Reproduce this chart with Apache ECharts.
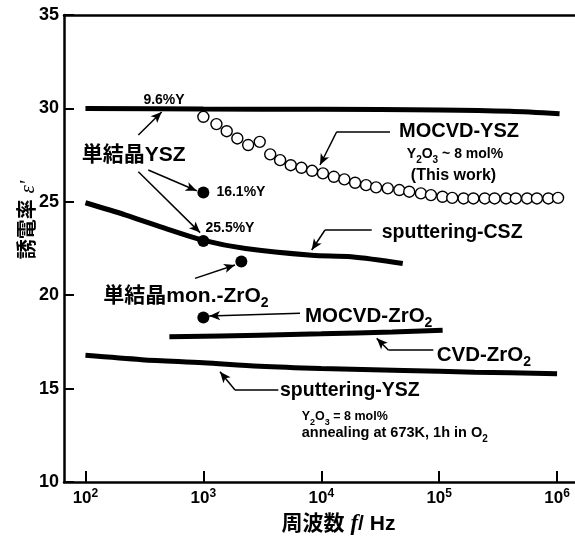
<!DOCTYPE html>
<html><head><meta charset="utf-8">
<script src="https://cdn.jsdelivr.net/npm/echarts@6/dist/echarts.min.js"></script>
<style>html,body{margin:0;padding:0;background:#fff}#c{width:575px;height:540px}</style>
</head><body><div id="c"></div>
<script>
// ---------- DATA ----------
const xTickValues = [100, 1000, 10000, 100000, 1000000];
const yTickValues = [10, 15, 20, 25, 30, 35];

// single crystal YSZ 9.6%Y (line)
const ysz96Freq = [100, 1000, 10000, 100000, 400000, 1050000];
const ysz96Val  = [30.0, 29.97, 29.95, 29.92, 29.85, 29.72];

// MOCVD-YSZ (this work), open circles
const mocvdYszFreq = [1000, 1291, 1578, 1941, 2399, 3006, 3690, 4477, 5508, 6792, 8356,
  10330, 12790, 15700, 19360, 23990, 29170, 36640, 45920, 55720, 69980, 85110,
  106700, 129100, 161100, 195000, 243800, 295100, 369000, 446700, 557200, 674500, 843300, 1019000];
const mocvdYszVal = [29.55, 29.16, 28.78, 28.39, 28.04, 28.21, 27.54, 27.23, 26.96, 26.82, 26.66,
  26.52, 26.34, 26.20, 26.02, 25.89, 25.77, 25.72, 25.63, 25.54, 25.45, 25.36,
  25.27, 25.21, 25.18, 25.18, 25.18, 25.18, 25.18, 25.18, 25.18, 25.18, 25.18, 25.21];

// sputtering-CSZ
const cszFreq = [100, 220, 434, 986, 2280, 8280, 17950, 49100];
const cszVal  = [24.95, 24.29, 23.66, 22.95, 22.5, 22.14, 22.06, 21.70];

// CVD-ZrO2
const cvdZrFreq = [515, 3000, 10000, 40000, 107000];
const cvdZrVal  = [17.77, 17.86, 17.93, 18.03, 18.13];

// sputtering-YSZ
const spYszFreq = [100, 300, 1000, 3000, 10000, 50000, 200000, 1000000];
const spYszVal  = [16.78, 16.55, 16.38, 16.20, 16.08, 15.97, 15.88, 15.80];

// single crystal YSZ points (16.1%Y, 25.5%Y)
const scYszFreq = [1000, 1000];
const scYszVal  = [25.5, 22.9];
// single crystal mon.-ZrO2
const monZrFreq = [2100];
const monZrVal  = [21.8];
// MOCVD-ZrO2
const mocvdZrFreq = [1000];
const mocvdZrVal  = [18.8];

// ---------- ANNOTATIONS (data-space anchors) ----------
const FONT = "'Liberation Sans','Noto Sans CJK JP',sans-serif";
const annTexts = [
  {t: '9.6%Y', f: 310, v: 30.45, fs: 14},
  {t: '単結晶YSZ', f: 92.9, v: 27.51, fs: 21},
  {t: '16.1%Y', f: 1290, v: 25.52, fs: 14},
  {t: '25.5%Y', f: 1041, v: 23.60, fs: 14},
  {t: 'MOCVD-YSZ', f: 147300, v: 28.74, fs: 20, align: 'center'},
  {t: 'Y{s|2}O{s|3} ~ 8 mol%', f: 136200, v: 27.56, fs: 14, align: 'center'},
  {t: '(This work)', f: 132300, v: 26.38, fs: 16, align: 'center'},
  {t: 'sputtering-CSZ', f: 32560, v: 23.36, fs: 19.5},
  {t: '単結晶mon.-ZrO{s|2}', f: 141.7, v: 19.96, fs: 21},
  {t: 'MOCVD-ZrO{s|2}', f: 7280, v: 18.89, fs: 20.5},
  {t: 'CVD-ZrO{s|2}', f: 95330, v: 16.80, fs: 20.5},
  {t: 'sputtering-YSZ', f: 4468, v: 14.87, fs: 19.5},
  {t: 'Y{s|2}O{s|3} = 8 mol%', f: 6826, v: 13.53, fs: 12.5},
  {t: 'annealing at 673K, 1h in O{s|2}', f: 6826, v: 12.62, fs: 14.5}
];
const annArrows = [
  [[281, 28.58], [443, 29.81]],
  [[341, 26.70], [878, 25.59]],
  [[281, 26.61], [938, 23.35]],
  [[38280, 28.75], [13520, 28.75], [9757, 26.97]],
  [[26780, 23.49], [10760, 23.49], [8296, 22.42]],
  [[849, 20.90], [1855, 21.62]],
  [[6603, 19.03], [1119, 18.89]],
  [[89190, 17.07], [37030, 17.07], [29530, 17.69]],
  [[4321, 14.93], [1855, 14.93], [1384, 15.90]]
];

// ---------- BUILD ----------
const zip = (a, b) => a.map((x, i) => [x, b[i]]);
const lineSeries = (name, fx, vy) => ({
  name, type: 'line', data: zip(fx, vy), smooth: 0.3, symbol: 'none',
  lineStyle: {color: '#000', width: 5, cap: 'butt', opacity: 1}, z: 3, silent: true
});
const dotSeries = (name, fx, vy) => ({
  name, type: 'scatter', data: zip(fx, vy), symbol: 'circle', symbolSize: 12, z: 5, silent: true,
  itemStyle: {color: '#000', opacity: 1}
});

const mpData = annTexts.map(a => {
  const sub = Math.round(a.fs * 0.68);
  return {
    coord: [a.f, a.v], symbolSize: 0,
    label: {
      show: true, position: [0, 0], formatter: a.t,
      align: a.align || 'left', verticalAlign: 'middle',
      fontSize: a.fs, fontWeight: 'bold', fontFamily: FONT, color: '#000',
      lineHeight: Math.round(a.fs + 8),
      rich: {s: {fontSize: sub, fontWeight: 'bold', fontFamily: FONT, color: '#000',
                 verticalAlign: 'bottom', lineHeight: sub + 2}}
    }
  };
});
const mlData = [];
annArrows.forEach(pts => {
  for (let i = 0; i < pts.length - 1; i++) {
    const last = i === pts.length - 2;
    mlData.push([
      {coord: pts[i], symbol: 'none'},
      {coord: pts[i + 1], symbol: last ? 'arrow' : 'none', symbolSize: [7, 11]}
    ]);
  }
});

const chart = echarts.init(document.getElementById('c'), null, {renderer: 'canvas'});
chart.setOption({
  animation: false,
  backgroundColor: '#fff',
  grid: {left: 64, right: 0, top: 15, bottom: 58, containLabel: false, outerBoundsMode: 'none'},
  xAxis: [{
    type: 'log', logBase: 10, min: 65.77, max: 1.419e6,
    name: '周波数 {i|f}/ Hz', nameLocation: 'middle', nameGap: 26,
    nameTextStyle: {fontSize: 21, fontWeight: 'bold', fontFamily: FONT, color: '#000', padding: [0, 0, 0, 38],
      rich: {i: {fontSize: 23, fontStyle: 'italic', fontWeight: 'bold', fontFamily: "'Liberation Serif',serif", color: '#000'}}},
    axisLine: {show: true, lineStyle: {color: '#000', width: 2.5}},
    axisTick: {show: true, inside: true, length: 11, lineStyle: {color: '#000', width: 2}},
    splitLine: {show: false}, minorTick: {show: false},
    axisLabel: {
      show: true, margin: 6, showMinLabel: false, showMaxLabel: false,
      formatter: v => '10{sup|' + Math.round(Math.log10(v)) + '}',
      fontSize: 17, fontWeight: 'bold', fontFamily: FONT, color: '#000', lineHeight: 20,
      rich: {sup: {fontSize: 12, fontWeight: 'bold', fontFamily: FONT, color: '#000', verticalAlign: 'top', lineHeight: 12}}
    }
  }, {
    type: 'value', position: 'top', gridIndex: 0,
    axisLine: {show: true, lineStyle: {color: '#000', width: 2.5}},
    axisTick: {show: false}, axisLabel: {show: false}, splitLine: {show: false}
  }],
  yAxis: {
    type: 'value', min: yTickValues[0], max: yTickValues[yTickValues.length - 1], interval: 5,
    axisLine: {show: true, lineStyle: {color: '#000', width: 2.5}},
    axisTick: {show: true, inside: true, length: 10, lineStyle: {color: '#000', width: 2}},
    splitLine: {show: false},
    axisLabel: {margin: 5, fontSize: 18, fontWeight: 'bold', fontFamily: FONT, color: '#000'}
  },
  graphic: [{
    type: 'text', x: 28, y: 220, rotation: Math.PI / 2, silent: true,
    style: {
      text: "誘電率 {i|ε'}", fontSize: 20, fontWeight: 'bold', fontFamily: FONT, fill: '#000',
      align: 'center', verticalAlign: 'middle',
      rich: {i: {fontSize: 21, fontStyle: 'italic', fontFamily: "'Liberation Serif',serif", fill: '#000'}}
    }
  }],
  series: [
    lineSeries('単結晶YSZ 9.6%Y', ysz96Freq, ysz96Val),
    lineSeries('sputtering-CSZ', cszFreq, cszVal),
    lineSeries('CVD-ZrO2', cvdZrFreq, cvdZrVal),
    lineSeries('sputtering-YSZ', spYszFreq, spYszVal),
    {
      name: 'MOCVD-YSZ', type: 'scatter', data: zip(mocvdYszFreq, mocvdYszVal),
      symbol: 'circle', symbolSize: 11, z: 4, silent: true,
      itemStyle: {color: '#fff', borderColor: '#000', borderWidth: 1.4, opacity: 1}
    },
    dotSeries('単結晶YSZ', scYszFreq, scYszVal),
    dotSeries('単結晶mon.-ZrO2', monZrFreq, monZrVal),
    dotSeries('MOCVD-ZrO2', mocvdZrFreq, mocvdZrVal),
    {
      name: 'annotations', type: 'scatter', data: [], z: 6, silent: true,
      markPoint: {silent: true, symbol: 'circle', symbolSize: 0, itemStyle: {color: 'transparent'}, data: mpData},
      markLine: {silent: true, symbol: ['none', 'none'], precision: 6,
        lineStyle: {color: '#000', width: 1.5, type: 'solid', opacity: 1}, label: {show: false},
        emphasis: {disabled: true}, data: mlData}
    }
  ]
});
</script></body></html>
